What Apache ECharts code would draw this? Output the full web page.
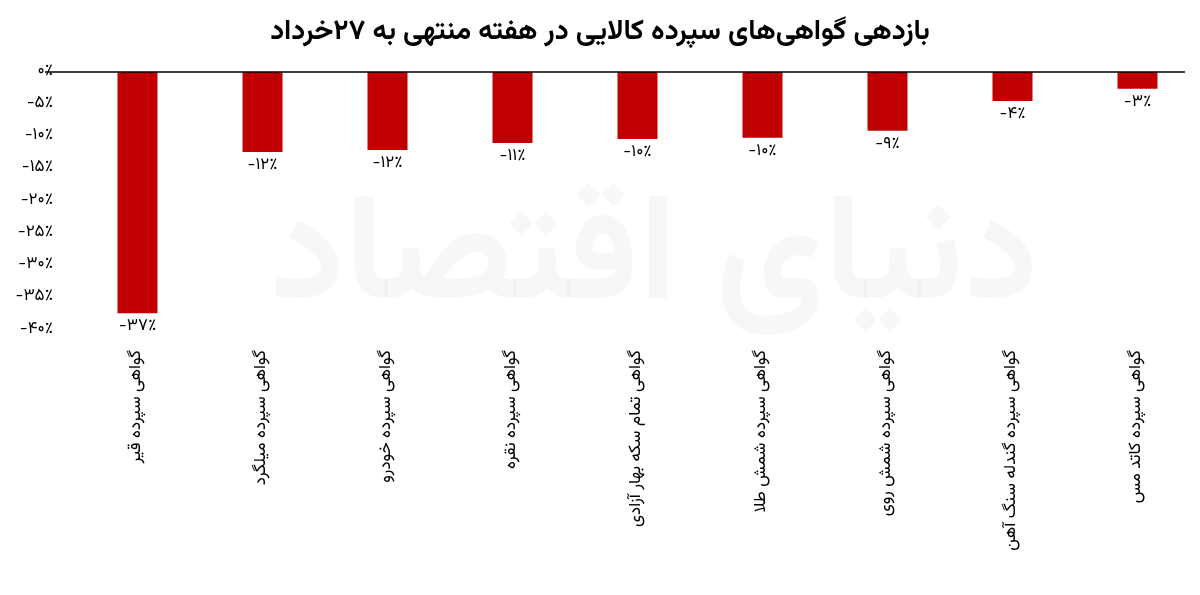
<!DOCTYPE html>
<html><head><meta charset="utf-8">
<script src="https://cdn.jsdelivr.net/npm/echarts@6/dist/echarts.min.js"></script>
<style>html,body{margin:0;background:#fff}#c{width:1200px;height:595px}</style>
</head><body><div id="c"></div>
<script>
const titleText = 'بازدهی گواهی‌های سپرده کالایی در هفته منتهی به ۲۷خرداد';
const categories = ['گواهی سپرده قیر','گواهی سپرده میلگرد','گواهی سپرده خودرو','گواهی سپرده نقره','گواهی تمام سکه بهار آزادی','گواهی سپرده شمش طلا','گواهی سپرده شمش روی','گواهی سپرده گندله سنگ آهن','گواهی سپرده کاتد مس'];
const values = [-37.4, -12.4, -12.1, -11.0, -10.4, -10.2, -9.1, -4.5, -2.6];
const yTicks = [0, -5, -10, -15, -20, -25, -30, -35, -40];
const fa = n => String(n).replace(/\d/g, d => '۰۱۲۳۴۵۶۷۸۹'[d]);
const pct = v => (v < 0 ? '-' : '') + fa(Math.abs(Math.round(v))) + '٪';
const font = 'Vazirmatn, "Noto Sans", "DejaVu Sans", sans-serif';
const chart = echarts.init(document.getElementById('c'));
chart.setOption({
  animation: false,
  title: { text: titleText, left: 'center', top: 16, textStyle: { fontSize: 28, fontWeight: 'bold', color: '#000', fontFamily: font } },
  graphic: [{ type: 'text', left: 270, top: 200, z: 0, style: { text: 'دنیای اقتصاد', fontSize: 150, fontWeight: 'bold', fill: 'rgba(0,0,0,0.03)', fontFamily: font } },
    { type: 'line', shape: { x1: 45, y1: 72, x2: 1185, y2: 72 }, style: { stroke: '#000', lineWidth: 1.5 }, z: 10 }],
  grid: { left: 75, right: 0, top: 72, bottom: 265 },
  xAxis: [
    { type: 'category', data: categories, position: 'bottom', axisLine: { show: false }, axisTick: { show: false },
      axisLabel: { rotate: 90, interval: 0, margin: 20, fontSize: 17, color: '#000', fontFamily: font } }
  ],
  yAxis: { type: 'value', min: -40, max: 0, interval: 5, splitLine: { show: false }, axisLine: { show: false }, axisTick: { show: false },
    axisLabel: { formatter: v => pct(v), fontSize: 17, color: '#000', fontFamily: font, margin: 22 } },
  series: [{ type: 'bar', data: values, barWidth: 40, itemStyle: { color: '#c00000' },
    label: { show: true, position: 'bottom', distance: 6, formatter: p => pct(p.value), fontSize: 17, color: '#000', fontFamily: font } }]
});
</script></body></html>
